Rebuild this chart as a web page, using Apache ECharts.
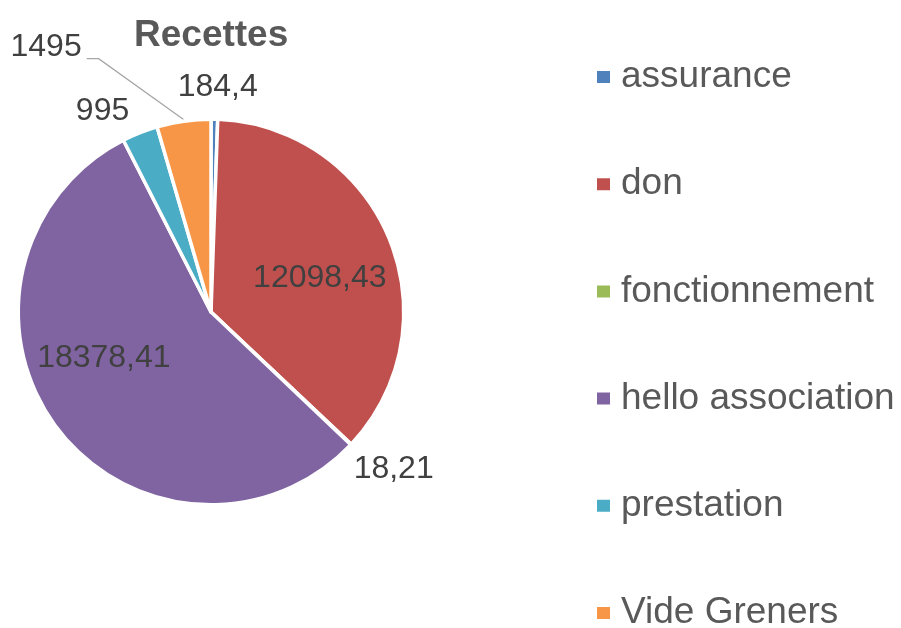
<!DOCTYPE html>
<html>
<head>
<meta charset="utf-8">
<script src="https://cdn.jsdelivr.net/npm/echarts@6/dist/echarts.min.js"></script>
<style>
  html, body { margin: 0; padding: 0; background: #fff; }
  #chart { width: 901px; height: 628px; }
</style>
</head>
<body>
<div id="chart"></div>
<script>
// categories and values
const categories = ["assurance", "don", "fonctionnement", "hello association", "prestation", "Vide Greners"];
const values = [184.4, 12098.43, 18.21, 18378.41, 995, 1495];
const colors = ["#4F81BD", "#C0504D", "#9BBB59", "#8064A2", "#4BACC6", "#F79646"];

const chart = echarts.init(document.getElementById("chart"));

// pie geometry (px)
const CX = 211, CY = 312, R = 194.5;
// label spot per slice: [angle shift from slice middle (deg), distance in radii]
const labelSpots = [[0.7, 1.155], [5.1, 0.586], [-2.7, 1.239], [13.4, 0.6], [-6.7, 1.175], [-23.8, 1.604]];

const total = values.reduce((a, b) => a + b, 0);
function midAngle(i) {
  let before = 0;
  for (let j = 0; j < i; j++) before += values[j];
  return (before + values[i] / 2) / total * 360; // clockwise from 12 o'clock
}
function polar(deg, dist) {
  const a = deg * Math.PI / 180;
  return [CX + Math.sin(a) * dist, CY - Math.cos(a) * dist];
}

const option = {
  animation: false,
  title: {
    text: "Recettes",
    left: 134,
    top: 17,
    padding: 0,
    textStyle: { fontFamily: "Liberation Sans, Arial", fontSize: 37, fontWeight: "bold", color: "#595959" }
  },
  legend: {
    orient: "vertical",
    left: 595,
    top: 58.5,
    height: 800,
    padding: 0,
    itemGap: 70.2,
    itemWidth: 15,
    itemHeight: 14,
    icon: "rect",
    selectedMode: false,
    textStyle: {
      fontFamily: "Liberation Sans, Arial",
      fontSize: 37,
      lineHeight: 37,
      color: "#595959",
      padding: [0, 0, 0, 5]
    },
    data: categories
  },
  series: [
    {
      type: "pie",
      center: [CX, CY],
      radius: R - 1.75,
      startAngle: 90,
      clockwise: true,
      avoidLabelOverlap: false,
      emphasis: { disabled: true },
      itemStyle: { borderColor: "#fff", borderWidth: 3.5 },
      label: {
        show: true,
        position: "outside",
        fontFamily: "Liberation Sans, Arial",
        fontSize: 32,
        color: "#404040",
        formatter: (p) => String(p.value).replace(".", ",")
      },
      labelLine: { show: false, lineStyle: { color: "#A6A6A6", width: 1.3 } },
      labelLayout: (params) => {
        const i = params.dataIndex;
        const mid = midAngle(i);
        const spot = polar(mid + labelSpots[i][0], labelSpots[i][1] * R);
        const res = { x: spot[0], y: spot[1], align: "center", verticalAlign: "middle" };
        if (i === 5) {
          const edge = polar(mid, R);
          const endX = spot[0] + params.labelRect.width / 2 + 5;
          const y = spot[1] + 11.5;
          res.labelLinePoints = [edge, [endX + 12, y], [endX, y]];
        }
        return res;
      },
      data: categories.map((name, i) => ({
        name: name,
        value: values[i],
        itemStyle: { color: colors[i] },
        labelLine: { show: i === 5 }
      }))
    }
  ]
};

chart.setOption(option);
</script>
</body>
</html>
